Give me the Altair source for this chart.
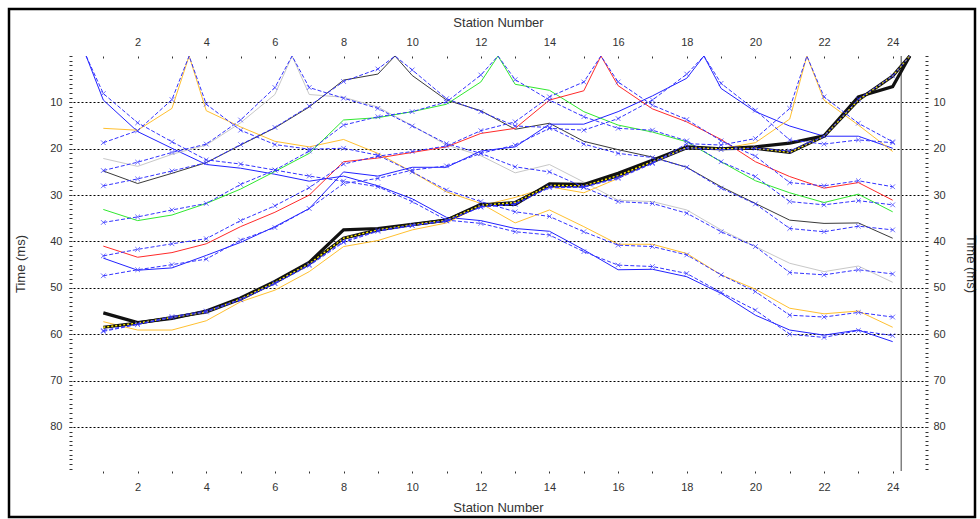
import altair as alt
import pandas as pd

# ---------------- data ----------------
stations = list(range(1, 25))
shot_ids = ["A", "B", "C", "D", "E", "F", "G", "H", "I1", "I2"]
shot_pos = {"A": 0.5, "B": 3.5, "C": 6.5, "D": 9.5, "E": 12.5, "F": 15.5,
            "G": 18.5, "H": 21.5, "I1": 24.5, "I2": 24.5, "I": 24.5}

obs_A = [9.5, 16.3, 19.9, 23.4, 24.2, 25.5, 27.0, 25.9, 28.0, 30.8, 34.8, 35.5,
         37.2, 37.8, 41.8, 46.1, 46.0, 47.6, 51.2, 55.9, 59.1, 60.2, 59.1, 61.6]
obs_B = [15.6, 16.0, 11.3, 11.8, 15.3, 18.4, 19.6, 18.0, 21.0, 25.0, 29.3, 31.8,
         36.0, 33.2, 36.8, 40.6, 40.6, 42.6, 47.2, 50.3, 54.4, 55.6, 55.0, 58.5]
obs_C = [22.1, 23.8, 21.2, 19.2, 14.4, 8.3, 8.3, 8.9, 11.0, 15.0, 19.2, 21.5,
         25.2, 23.4, 27.2, 31.1, 31.4, 33.2, 37.5, 41.1, 44.7, 46.5, 45.3, 48.8]
obs_D = [24.8, 27.5, 25.3, 23.0, 19.2, 15.5, 11.0, 5.2, 3.9, 4.2, 9.5, 11.8,
         15.8, 14.5, 18.4, 20.2, 21.8, 24.0, 28.2, 31.8, 35.4, 36.1, 36.0, 39.3]
obs_E = [33.1, 35.5, 34.3, 31.8, 28.7, 24.9, 21.0, 13.8, 13.3, 12.0, 10.4, 5.6,
         6.1, 7.4, 12.0, 14.9, 16.4, 18.5, 22.8, 26.9, 29.5, 31.6, 29.8, 33.6]
obs_F = [41.0, 43.4, 42.4, 40.5, 36.8, 33.7, 30.0, 22.8, 22.0, 20.8, 19.6, 16.7,
         15.6, 9.5, 7.5, 6.4, 11.4, 14.2, 18.0, 22.8, 26.0, 28.5, 27.3, 31.1]
obs_G = [43.6, 46.2, 45.7, 43.0, 40.2, 36.8, 32.9, 25.0, 25.9, 24.0, 24.0, 20.5,
         19.6, 14.7, 14.7, 12.0, 8.6, 4.8, 7.0, 12.0, 15.1, 17.3, 17.3, 19.9]
obs_H = [57.3, 59.1, 59.1, 57.1, 53.0, 50.5, 46.5, 41.1, 39.8, 37.5, 36.0, 32.3,
         30.5, 28.2, 29.5, 26.4, 22.8, 19.4, 20.0, 18.7, 13.6, 9.5, 14.9, 20.6]
obs_I1 = [55.4, 57.5, 56.6, 55.0, 52.2, 48.6, 44.5, 37.5, 37.2, 36.3, 35.4, 32.0,
          32.0, 27.6, 27.7, 25.3, 22.5, 19.6, 20.0, 19.6, 18.8, 17.2, 8.8, 6.6]
obs_I2 = [58.5, 57.6, 56.4, 55.2, 52.4, 48.8, 44.8, 39.3, 37.5, 36.4, 35.4, 32.2,
          31.6, 27.9, 28.0, 25.8, 22.8, 19.8, 20.0, 19.9, 20.8, 17.3, 9.5, 4.3]

calc_A = [8.1, 14.4, 18.5, 22.4, 23.3, 24.6, 25.9, 27.0, 28.2, 31.4, 35.4, 36.1,
          37.9, 38.6, 42.2, 45.1, 45.4, 46.9, 51.0, 54.8, 60.0, 60.7, 59.2, 60.3]
calc_B = [18.7, 16.1, 9.4, 10.4, 16.0, 19.1, 20.1, 19.9, 21.4, 25.0, 28.9, 31.4,
          33.6, 34.6, 37.9, 40.8, 41.1, 42.9, 47.2, 50.8, 55.9, 56.3, 55.3, 56.3]
calc_C = [24.7, 22.9, 20.8, 19.0, 13.8, 6.8, 6.8, 9.1, 11.3, 15.1, 18.9, 21.0,
          23.9, 25.0, 28.3, 31.4, 31.8, 33.9, 37.9, 41.1, 46.7, 47.2, 46.1, 47.0]
calc_D = [28.0, 26.5, 24.8, 23.0, 19.1, 15.4, 10.8, 5.5, 2.8, 3.0, 9.2, 12.0,
          15.1, 15.4, 19.0, 21.0, 21.9, 24.0, 28.5, 31.9, 37.2, 37.9, 36.7, 37.5]
calc_E = [35.9, 34.7, 33.2, 31.8, 27.7, 24.6, 20.5, 14.9, 13.1, 12.0, 9.9, 4.1,
          5.1, 9.5, 13.1, 15.6, 16.0, 18.3, 22.8, 26.0, 31.4, 32.1, 31.2, 32.1]
calc_F = [43.1, 41.7, 40.5, 39.4, 35.5, 32.3, 28.4, 23.3, 21.6, 20.6, 19.4, 16.1,
          14.2, 8.8, 5.6, 5.6, 10.6, 13.7, 18.3, 21.6, 27.3, 28.0, 26.9, 28.2]
calc_G = [47.4, 46.1, 45.0, 43.8, 39.7, 37.0, 32.9, 27.5, 26.4, 24.6, 23.7, 21.0,
          19.2, 15.6, 16.0, 13.5, 9.5, 3.9, 5.9, 11.7, 18.1, 19.0, 18.1, 18.7]
calc_H = [59.4, 57.9, 56.4, 55.2, 52.6, 49.1, 45.2, 40.2, 37.8, 36.6, 35.6, 32.6,
          32.0, 28.4, 28.3, 26.4, 23.2, 18.9, 19.2, 17.8, 11.3, 8.8, 14.5, 18.5]
calc_I = [59.2, 57.8, 56.2, 55.0, 52.5, 49.0, 45.0, 40.0, 37.6, 36.5, 35.5, 32.5,
          31.9, 28.2, 28.2, 26.2, 23.0, 19.8, 20.2, 19.9, 20.5, 17.3, 9.3, 4.3]

obs_series = {"A": obs_A, "B": obs_B, "C": obs_C, "D": obs_D, "E": obs_E,
              "F": obs_F, "G": obs_G, "H": obs_H, "I1": obs_I1, "I2": obs_I2}
calc_series = {"A": calc_A, "B": calc_B, "C": calc_C, "D": calc_D, "E": calc_E,
               "F": calc_F, "G": calc_G, "H": calc_H, "I": calc_I}

spread_end = [24.25]
y_label_values = [10, 20, 30, 40, 50, 60, 70, 80]
x_label_values = list(range(2, 25, 2))

colour_domain = ["A", "B", "C", "D", "E", "F", "G", "H"]
colour_range = ["#2222ff", "#ffc030", "#c8c8c8", "#3a3a3a", "#30e830",
                "#ff2a2a", "#2222ff", "#ffc030"]


def build(series_dict):
    rows = []
    for name, vals in series_dict.items():
        for s, t in zip(stations, vals):
            rows.append({"series": name, "station": s, "time": t, "marker": True})
        rows.append({"series": name, "station": shot_pos[name], "time": 0.0, "marker": False})
    return pd.DataFrame(rows)


obs_df = build(obs_series)
calc_df = build(calc_series)
calc_pts = calc_df[calc_df["marker"]]

# ---------------- scales & axes ----------------
FONT = "Liberation Sans"
TXT = "#333333"
xs = alt.Scale(domain=[0, 25], nice=False, zero=False)
ys = alt.Scale(domain=[0, 89.5], reverse=True, nice=False, zero=False)

ax_bottom = alt.Axis(orient="bottom", values=x_label_values, ticks=False, domain=False, grid=False,
                     labelPadding=10, labelFont=FONT, labelFontSize=11, labelColor=TXT,
                     title="Station Number", titleFont=FONT, titleFontSize=13,
                     titleFontWeight="normal", titleColor=TXT, titleY=36, titleBaseline="middle")
ax_top = alt.Axis(orient="top", values=x_label_values, ticks=False, domain=False, grid=False,
                  labelPadding=9, labelFont=FONT, labelFontSize=11, labelColor=TXT,
                  title="Station Number", titleFont=FONT, titleFontSize=13,
                  titleFontWeight="normal", titleColor=TXT, titleY=-34, titleBaseline="middle")
ax_left = alt.Axis(orient="left", values=y_label_values, ticks=False, domain=False, grid=True,
                   gridColor="#000000", gridDash=[2, 2], gridWidth=1, gridOpacity=1,
                   labelPadding=7, labelFont=FONT, labelFontSize=11, labelColor=TXT,
                   title="Time (ms)", titleFont=FONT, titleFontSize=13, titleFontWeight="normal",
                   titleColor=TXT, titleX=-49, titleBaseline="middle")
ax_right = alt.Axis(orient="right", values=y_label_values, ticks=False, domain=False, grid=False,
                    labelPadding=6, labelFont=FONT, labelFontSize=11, labelColor=TXT,
                    title="Time (ms)", titleFont=FONT, titleFontSize=13, titleFontWeight="normal",
                    titleColor=TXT, titleX=43, titleAngle=90, titleBaseline="middle")
ax_left_minor = alt.Axis(orient="left", values=list(range(0, 90)), labels=False, ticks=True,
                         tickSize=3, tickColor=TXT, domain=False, grid=False, offset=-3, title=None)
ax_right_minor = alt.Axis(orient="right", values=list(range(0, 90)), labels=False, ticks=True,
                          tickSize=3, tickColor=TXT, domain=False, grid=False, offset=-2, title=None)
ax_bottom_minor = alt.Axis(orient="bottom", values=stations, labels=False, ticks=True,
                           tickSize=2, tickColor=TXT, domain=False, grid=False, title=None)
ax_top_minor = alt.Axis(orient="top", values=stations, labels=False, ticks=True,
                        tickSize=2, tickColor=TXT, domain=False, grid=False, offset=-2, title=None)

colour = alt.Color("series:N", scale=alt.Scale(domain=colour_domain, range=colour_range), legend=None)

# ---------------- layers ----------------
rule = alt.Chart(pd.DataFrame({"station": spread_end})).mark_rule(
    color="#808080", strokeWidth=1.5).encode(
    x=alt.X("station:Q", scale=xs, axis=None),
    y=alt.Y(datum=0, scale=ys, axis=None),
    y2=alt.Y2(datum=89.5))

obs_lines = alt.Chart(obs_df[obs_df["series"].isin(colour_domain)]).mark_line(strokeWidth=1).encode(
    x=alt.X("station:Q", scale=xs, axis=ax_bottom),
    y=alt.Y("time:Q", scale=ys, axis=ax_left),
    color=colour, detail="series:N", order="station:Q")

black_lines = alt.Chart(obs_df[obs_df["series"].isin(["I1", "I2"])]).mark_line(
    strokeWidth=3.2, color="#111111").encode(
    x=alt.X("station:Q", scale=xs, axis=ax_top_minor),
    y=alt.Y("time:Q", scale=ys, axis=ax_right_minor),
    detail="series:N", order="station:Q")

yellow_line = alt.Chart(obs_df[obs_df["series"] == "I2"]).mark_line(
    strokeWidth=1.4, color="#ffee00", strokeDash=[2, 2]).encode(
    x=alt.X("station:Q", scale=xs, axis=None),
    y=alt.Y("time:Q", scale=ys, axis=None),
    order="station:Q")

calc_lines = alt.Chart(calc_df).mark_line(strokeWidth=1, color="#3333ff", strokeDash=[4, 2]).encode(
    x=alt.X("station:Q", scale=xs, axis=ax_top),
    y=alt.Y("time:Q", scale=ys, axis=ax_right),
    detail="series:N", order="station:Q")

calc_marks = alt.Chart(calc_pts).mark_point(
    shape="M-1,-1L1,1M-1,1L1,-1", size=22, color="#3333ff", strokeWidth=1, filled=False).encode(
    x=alt.X("station:Q", scale=xs, axis=ax_bottom_minor),
    y=alt.Y("time:Q", scale=ys, axis=ax_left_minor))

frame = alt.Chart(pd.DataFrame({"k": [0]})).mark_rect(
    fillOpacity=0, stroke="#000000", strokeWidth=2.5).encode(
    x=alt.value(-60), x2=alt.value(906), y=alt.value(-47), y2=alt.value(461))

chart = alt.layer(rule, obs_lines, black_lines, yellow_line, calc_lines, calc_marks, frame).resolve_axis(
    x="independent", y="independent").properties(
    width=858, height=415,
    autosize=alt.AutoSizeParams(type="none"),
    padding={"left": 69, "top": 56, "right": 53, "bottom": 48},
    background="#ffffff").configure_view(stroke=None)

chart.save("out.html", embed_options={"renderer": "svg", "actions": False})
